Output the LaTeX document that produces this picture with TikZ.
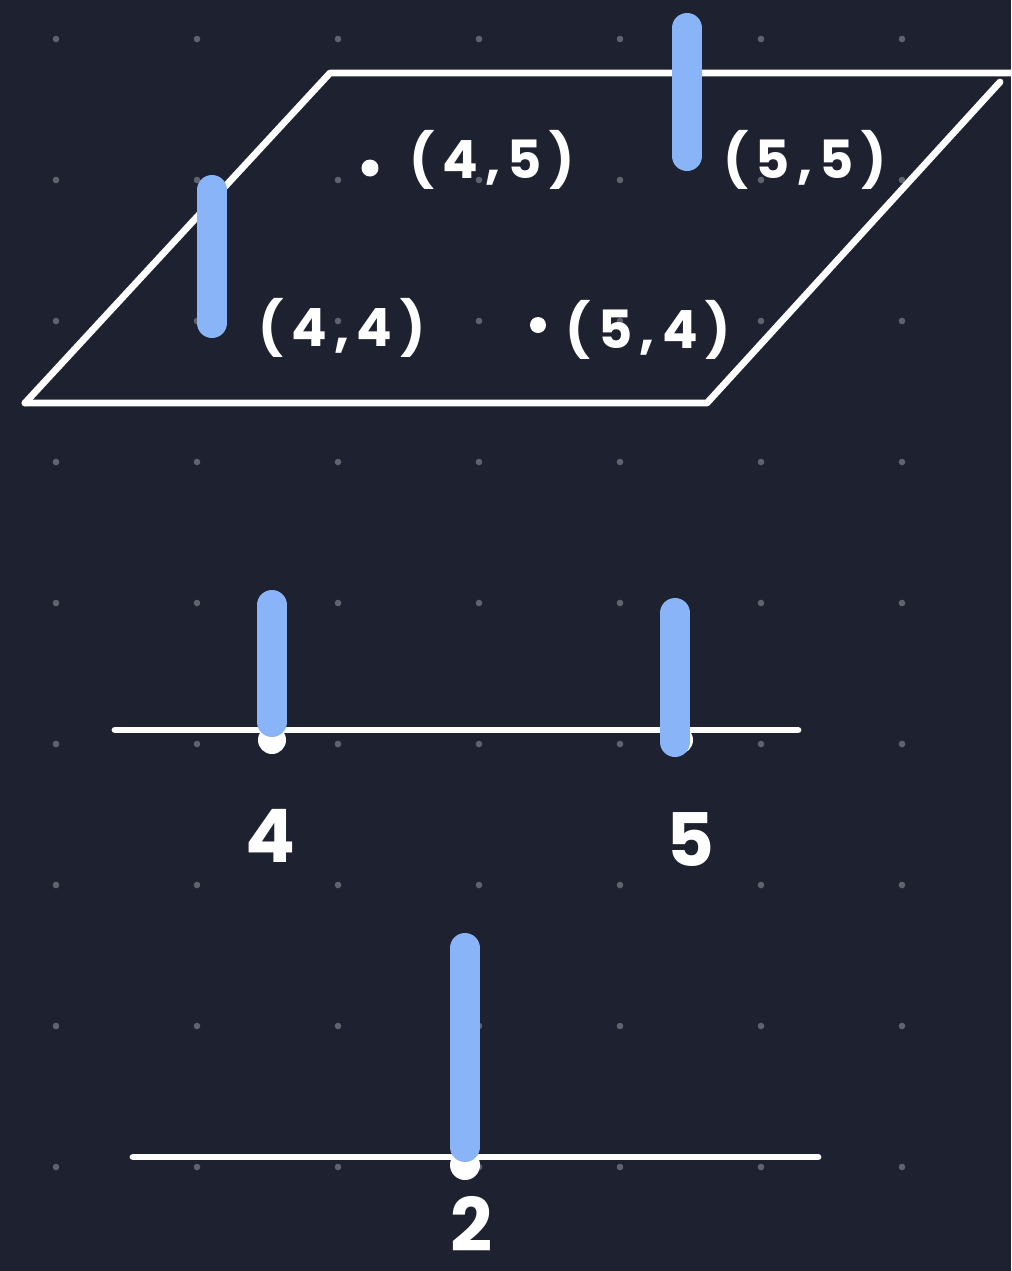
\documentclass[tikz,border=0pt]{standalone}
\usepackage{fontspec}
\setmainfont{Poppins}
\newfontfamily\handfont[LetterSpace=14]{Poppins}
\definecolor{bg}{HTML}{1E2230}
\definecolor{griddot}{HTML}{5E636E}
\definecolor{barblue}{HTML}{8AB4F8}
\tikzset{
  edge/.style={white, line width=0.68mm, line cap=round, line join=round},
  bar/.style={barblue, line width=3mm, line cap=round},
  pt/.style={circle, fill=white, inner sep=0pt, minimum size=#1},
  lbl/.style={text=white, inner sep=1pt, font=\handfont\bfseries\fontsize{15}{15}\selectfont},
  num/.style={text=white, inner sep=0pt, font=\bfseries\fontsize{21}{21}\selectfont},
}

\begin{document}
\begin{tikzpicture}[x=0.1mm, y=-0.1mm]

\fill[bg] (0,0) rectangle (1011,1271);
\useasboundingbox (0,0) rectangle (1011,1271);
\foreach \i in {0,...,6}
  \foreach \j in {0,...,8}
    \fill[griddot] (56+141*\i,39+141*\j) circle (0.33mm);

\coordinate (tl) at (330,73);
\coordinate (tr) at (1011,73);
\coordinate (rt) at (1000,82);
\coordinate (br) at (707,403);
\coordinate (bl) at (25,403);
\draw[edge] (bl) -- (tl) -- (tr);
\draw[edge] (rt) -- (br) -- (bl);

\node[pt=1.7mm] (d45) at (370,168) {};
\node[pt=1.6mm] (d54) at (538,325) {};
\draw[bar] (212,190) -- (212,323);
\draw[bar] (687,28) -- (687,156);
\node[lbl] (p45) at (492,160) {(4,5)};
\node[lbl] (p55) at (805,160) {(5,5)};
\node[lbl] (p44) at (342,328) {(4,4)};
\node[lbl] (p54) at (648,330) {(5,4)};

\coordinate (la) at (115,730);
\coordinate (ra) at (798,730);
\draw[edge] (la) -- (ra);
\node[pt=2.8mm] (w4) at (272,740) {};
\draw[bar] (272,605) -- (272,722);
\node[pt=2.8mm] (w5) at (679,740) {};
\draw[bar] (675,613) -- (675,742);
\node[num] (n4) at (270,836) {4};
\node[num] (n5) at (690,840) {5};

\coordinate (lb) at (133,1157);
\coordinate (rb) at (818,1157);
\draw[edge] (lb) -- (rb);
\node[pt=3mm] (w2) at (465,1165) {};
\draw[bar] (465,948) -- (465,1147);
\node[num] (n2) at (472,1224) {2};

\end{tikzpicture}
\end{document}
